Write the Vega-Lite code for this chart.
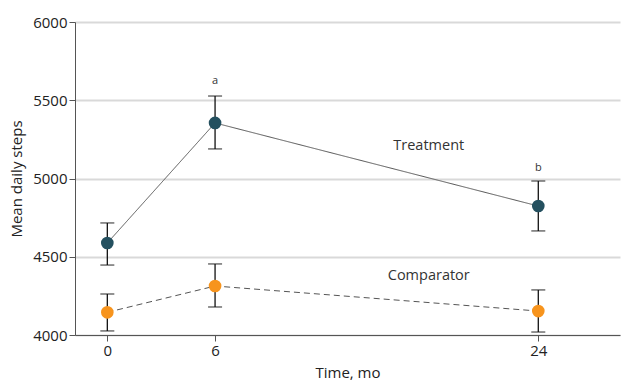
{
  "$schema": "https://vega.github.io/schema/vega-lite/v6.json",
  "width": 545,
  "height": 313,
  "autosize": {"type": "none"},
  "padding": {"left": 75, "top": 22, "right": 5, "bottom": 48},
  "background": "white",
  "config": {
    "view": {"stroke": null},
    "font": "Open Sans",
    "axis": {"labelFont": "Open Sans", "titleFont": "Open Sans", "labelFontSize": 15, "titleFontSize": 15, "titleFontWeight": "normal", "labelColor": "#222", "titleColor": "#222", "domainColor": "#555", "tickColor": "#555"}
  },
  "datasets": {
    "pts": [
      {"time": 0, "group": "Treatment", "mean": 4588, "lo": 4447, "hi": 4716},
      {"time": 6, "group": "Treatment", "mean": 5355, "lo": 5189, "hi": 5527},
      {"time": 24, "group": "Treatment", "mean": 4824, "lo": 4665, "hi": 4984},
      {"time": 0, "group": "Comparator", "mean": 4145, "lo": 4026, "hi": 4262},
      {"time": 6, "group": "Comparator", "mean": 4313, "lo": 4179, "hi": 4454},
      {"time": 24, "group": "Comparator", "mean": 4153, "lo": 4019, "hi": 4288}
    ],
    "labels": [
      {"time": 6, "y": 5625, "text": "a", "size": 11},
      {"time": 24, "y": 5065, "text": "b", "size": 11},
      {"time": 17.9, "y": 5205, "text": "Treatment", "size": 14.5},
      {"time": 17.9, "y": 4380, "text": "Comparator", "size": 14.5}
    ]
  },
  "layer": [
    {
      "data": {"name": "pts"},
      "mark": {"type": "line", "strokeWidth": 1, "color": "#555"},
      "encoding": {
        "x": {"field": "time", "type": "quantitative", "scale": {"domain": [-1.8, 28.55], "nice": false, "zero": false},
              "axis": {"values": [0, 6, 24], "title": "Time, mo", "grid": false, "tickSize": 6, "labelPadding": 2, "titlePadding": 7}},
        "y": {"field": "mean", "type": "quantitative", "scale": {"domain": [4000, 6000], "nice": false, "zero": false},
              "axis": {"values": [4000, 4500, 5000, 5500, 6000], "format": "d", "title": "Mean daily steps", "grid": true, "gridColor": "#d9d9d9", "gridWidth": 2, "tickSize": 6, "labelPadding": 2, "titlePadding": 8}},
        "detail": {"field": "group"},
        "strokeDash": {"field": "group", "type": "nominal", "scale": {"domain": ["Treatment", "Comparator"], "range": [[1, 0], [6, 4]]}, "legend": null}
      }
    },
    {
      "data": {"name": "pts"},
      "mark": {"type": "errorbar", "ticks": {"size": 14, "color": "#111"}, "rule": {"color": "#111"}, "thickness": 1.3},
      "encoding": {
        "x": {"field": "time", "type": "quantitative"},
        "y": {"field": "lo", "type": "quantitative", "title": "Mean daily steps"},
        "y2": {"field": "hi"}
      }
    },
    {
      "data": {"name": "pts"},
      "mark": {"type": "circle", "size": 160, "opacity": 1},
      "encoding": {
        "x": {"field": "time", "type": "quantitative"},
        "y": {"field": "mean", "type": "quantitative", "title": "Mean daily steps"},
        "color": {"field": "group", "type": "nominal", "scale": {"domain": ["Treatment", "Comparator"], "range": ["#24505f", "#f7941d"]}, "legend": null}
      }
    },
    {
      "data": {"name": "labels"},
      "mark": {"type": "text", "color": "#333", "font": "Open Sans"},
      "encoding": {
        "x": {"field": "time", "type": "quantitative"},
        "y": {"field": "y", "type": "quantitative", "title": "Mean daily steps"},
        "text": {"field": "text"},
        "size": {"field": "size", "type": "quantitative", "scale": null}
      }
    }
  ]
}
